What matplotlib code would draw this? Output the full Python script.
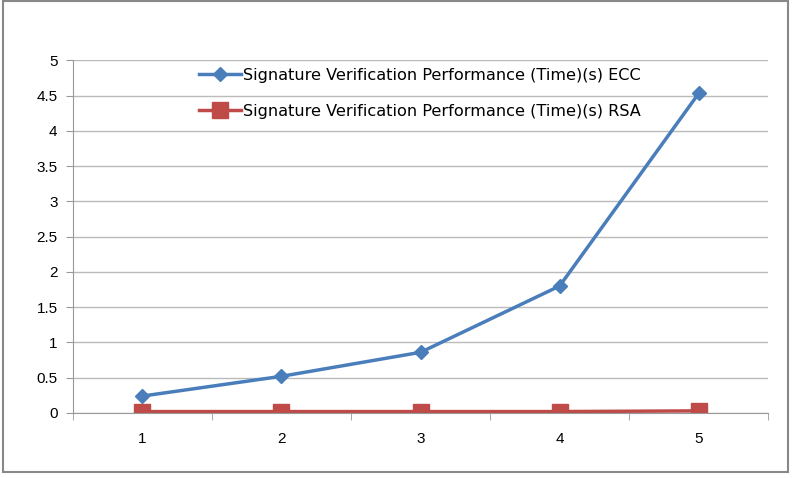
import numpy as np
import matplotlib.pyplot as plt
from matplotlib.patches import Rectangle

plt.rcParams['font.family'] = ['Liberation Sans', 'DejaVu Sans']

x = [1, 2, 3, 4, 5]
ecc = [0.24, 0.52, 0.86, 1.80, 4.53]
rsa = [0.02, 0.02, 0.02, 0.02, 0.03]
labels = ['Signature Verification Performance (Time)(s) ECC',
          'Signature Verification Performance (Time)(s) RSA']

fig = plt.figure(figsize=(7.92, 4.78), dpi=100)
fig.patches.append(Rectangle((0.004, 0.012), 0.991, 0.985, transform=fig.transFigure,
                             fill=False, edgecolor='#888888', linewidth=1.5))
ax = fig.add_axes([0.092, 0.136, 0.878, 0.738])

ax.plot(x, ecc, color='#4A7EBB', linewidth=2.5, marker='D', markersize=7, label=labels[0])
ax.plot(x, rsa, color='#BE4B48', linewidth=2.5, marker='s', markersize=11, label=labels[1])

ax.set_xlim(0.5, 5.5)
ax.set_ylim(0, 5)
ax.set_yticks(np.arange(0, 5.01, 0.5))
ax.set_yticklabels(['0', '0.5', '1', '1.5', '2', '2.5', '3', '3.5', '4', '4.5', '5'])
ax.set_xticks(x)
ax.set_xticks(np.arange(0.5, 5.6, 1), minor=True)
ax.tick_params(axis='x', which='major', length=0, pad=14, labelsize=11)
ax.tick_params(axis='x', which='minor', length=5, color='#999999', direction='out')
ax.tick_params(axis='y', length=5, color='#999999', labelsize=11, pad=6)
ax.grid(axis='y', color='#BBBBBB', linewidth=1)
ax.set_axisbelow(True)
for s in ['top', 'right']:
    ax.spines[s].set_visible(False)
ax.spines['left'].set_color('#999999')
ax.spines['bottom'].set_color('#999999')

ax.legend(loc='upper left', bbox_to_anchor=(0.16, 1.02), frameon=False,
          prop={'family': 'DejaVu Sans', 'size': 11.6},
          labelspacing=1.3, handlelength=2.6, handletextpad=0.15)

plt.savefig('out.png', dpi=100)
